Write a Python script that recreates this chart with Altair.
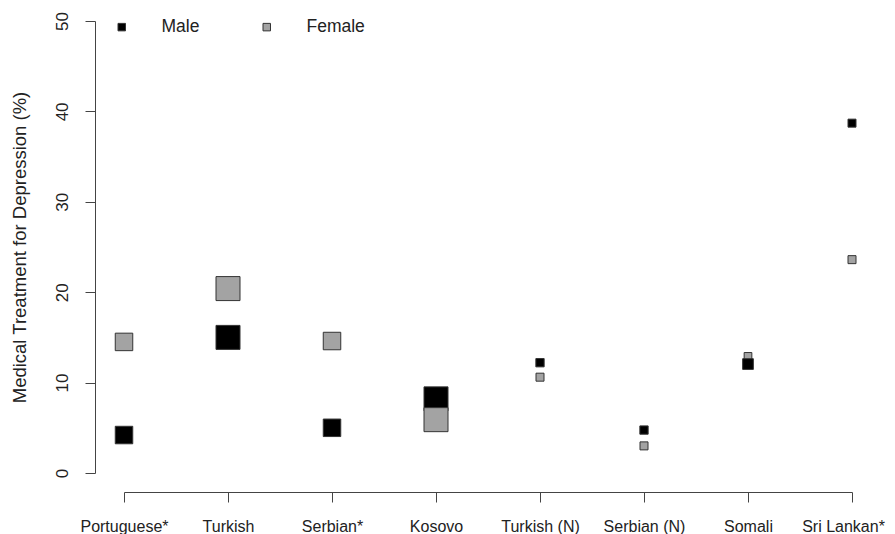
import altair as alt
import pandas as pd

groups = ["Portuguese*", "Turkish", "Serbian*", "Kosovo", "Turkish (N)",
          "Serbian (N)", "Somali", "Sri Lankan*"]
male_pct = [4.2, 15.0, 5.0, 8.2, 12.2, 4.75, 12.05, 38.7]
female_pct = [14.5, 20.4, 14.6, 5.9, 10.6, 3.0, 12.9, 23.6]
# relative sample weight of each estimate (drives square size)
male_weight = [17.5, 24, 17.5, 24, 8.3, 8.3, 10.7, 8]
female_weight = [17.5, 24, 17.5, 24, 8, 8, 7.7, 8]
y_ticks = [0, 10, 20, 30, 40, 50]
sexes = ["Male", "Female"]

rows = []
for i, g in enumerate(groups):
    m = {"group": g, "sex": "Male", "pct": male_pct[i], "w": male_weight[i]}
    f = {"group": g, "sex": "Female", "pct": female_pct[i], "w": female_weight[i]}
    pair = [f, m] if g == "Somali" else [m, f]
    rows.extend(pair)
df = pd.DataFrame(rows)

FONT = "Liberation Sans"

last_label_shift = {"condition": {"test": f"datum.value === '{groups[-1]}'", "value": -9},
                    "value": 0}

chart = alt.Chart(df).mark_point(
    shape="square", filled=True, opacity=1, stroke="#333333", strokeWidth=1
).encode(
    x=alt.X("group:N", sort=groups,
            scale=alt.Scale(type="point", padding=0),
            axis=alt.Axis(title=None, labelAngle=0, offset=19, tickSize=10,
                          labelPadding=16, labelFontSize=16, labelFont=FONT,
                          labelColor="#222222", domainColor="#444444",
                          labelOffset=last_label_shift,
                          tickColor="#444444", grid=False, labelBaseline="top")),
    y=alt.Y("pct:Q", scale=alt.Scale(domain=[0, 50], nice=False, zero=True),
            axis=alt.Axis(title="Medical Treatment for Depression (%)",
                          values=y_ticks, offset=29, tickSize=10, grid=False,
                          labelAngle=-90, labelAlign="center",
                          labelBaseline="bottom", labelPadding=14,
                          labelFontSize=17, labelFont=FONT, labelColor="#222222",
                          titleFont=FONT, titleFontSize=18.5, titleFontWeight="normal",
                          titleColor="#222222", titlePadding=24,
                          domainColor="#444444", tickColor="#444444")),
    fill=alt.Fill("sex:N", scale=alt.Scale(domain=sexes, range=["#000000", "#a3a3a3"]),
                  legend=alt.Legend(title=None, orient="none", legendX=-11, legendY=-3,
                                    direction="horizontal", symbolType="square",
                                    symbolSize=56, symbolStrokeColor="#333333",
                                    symbolStrokeWidth=1, labelOffset=31,
                                    columnPadding=58, labelFont=FONT,
                                    labelFontSize=17.5, labelColor="#222222")),
    size=alt.Size("w:Q", scale=alt.Scale(type="pow", exponent=2, domain=[0, 24],
                                         range=[0, 576]), legend=None),
).properties(
    width=728, height=452,
    autosize=alt.AutoSizeParams(type="none"),
    padding={"left": 116, "top": 13, "right": 34, "bottom": 61},
).configure(background="white").configure_view(stroke=None)

chart.save("out.html", embed_options={"renderer": "svg", "actions": False})
